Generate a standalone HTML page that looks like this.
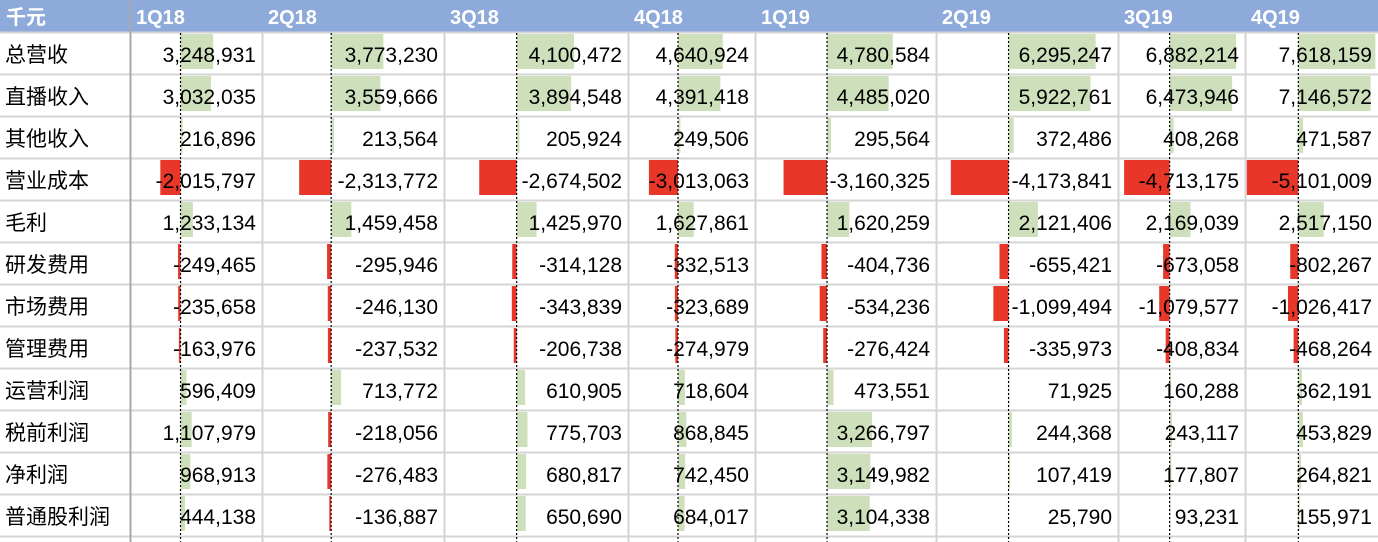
<!DOCTYPE html>
<html><head><meta charset="utf-8"><style>
html,body{margin:0;padding:0;background:#fff;width:1378px;height:542px;overflow:hidden}
svg text{font-family:"Liberation Sans","Noto Sans CJK SC",sans-serif}
</style></head><body>
<svg id="sheet" width="1378" height="542" xmlns="http://www.w3.org/2000/svg"></svg>
<script>
const quarters = ["1Q18","2Q18","3Q18","4Q18","1Q19","2Q19","3Q19","4Q19"];
const rowLabels = ["总营收","直播收入","其他收入","营业成本","毛利","研发费用","市场费用","管理费用","运营利润","税前利润","净利润","普通股利润"];
const q1_18 = [3248931,3032035,216896,-2015797,1233134,-249465,-235658,-163976,596409,1107979,968913,444138];
const q2_18 = [3773230,3559666,213564,-2313772,1459458,-295946,-246130,-237532,713772,-218056,-276483,-136887];
const q3_18 = [4100472,3894548,205924,-2674502,1425970,-314128,-343839,-206738,610905,775703,680817,650690];
const q4_18 = [4640924,4391418,249506,-3013063,1627861,-332513,-323689,-274979,718604,868845,742450,684017];
const q1_19 = [4780584,4485020,295564,-3160325,1620259,-404736,-534236,-276424,473551,3266797,3149982,3104338];
const q2_19 = [6295247,5922761,372486,-4173841,2121406,-655421,-1099494,-335973,71925,244368,107419,25790];
const q3_19 = [6882214,6473946,408268,-4713175,2169039,-673058,-1079577,-408834,160288,243117,177807,93231];
const q4_19 = [7618159,7146572,471587,-5101009,2517150,-802267,-1026417,-468264,362191,453829,264821,155971];
const series = [q1_18,q2_18,q3_18,q4_18,q1_19,q2_19,q3_19,q4_19];

const colEdges = [0,130,262,444,628,755,936,1118,1245,1378];
const headerH = 32, rowH = 42;
const NS = "http://www.w3.org/2000/svg";
const svg = document.getElementById("sheet");
function mk(tag, attrs){const e=document.createElementNS(NS,tag);for(const k in attrs)e.setAttribute(k,attrs[k]);svg.appendChild(e);return e;}
const fmt = v => (v<0?"-":"") + Math.abs(v).toString().replace(/\B(?=(\d{3})+(?!\d))/g,",");

const hb = mk("rect",{x:0,y:0,width:1378,height:headerH,fill:"#8eaadb"});


const ht = mk("text",{x:6,y:24,fill:"#fff","font-size":20,"font-weight":"bold"});
ht.textContent = "千元";


quarters.forEach((q,i)=>{
  const t = mk("text",{x:colEdges[i+1]+6,y:24,fill:"#fff","font-size":20,"font-weight":"bold"});
  t.textContent = q;
  
  
});

for(let r=0;r<=12;r++){
  const y = headerH + r*rowH;
  mk("line",{x1:0,x2:1378,y1:y+0.5,y2:y+0.5,stroke:"#d4d4d4","stroke-width":2});
}
colEdges.slice(1,-1).forEach((x,i)=>{
  mk("line",{x1:x+0.5,x2:x+0.5,y1:headerH,y2:542,stroke:i===0?"#a8a8a8":"#d4d4d4","stroke-width":2});
});
mk("line",{x1:130.5,x2:130.5,y1:0,y2:headerH,stroke:"#a8a8a8","stroke-width":2});

rowLabels.forEach((l,r)=>{
  const t = mk("text",{x:5,y:headerH+r*rowH+30,fill:"#000","font-size":21});
  t.textContent = l;
  
  
});

series.forEach((vals,c)=>{
  const left = colEdges[c+1], right = colEdges[c+2], w = right-left;
  const mx = Math.max(0,...vals), mn = Math.abs(Math.min(0,...vals));
  const axis = left + w*mn/(mx+mn);
  const scale = w*0.076/1e6;
  vals.forEach((v,r)=>{
    const top = headerH + r*rowH;
    const len = Math.abs(v)*scale;
    if(v>=0){
      const b = mk("rect",{x:axis,y:top+2,width:len,height:35,fill:"#cde0bb"});
      
      
    } else {
      const b = mk("rect",{x:axis-len,y:top+2,width:len,height:35,fill:"#e83628"});
      
      
    }
  });
  const ax = mk("line",{x1:axis,x2:axis,y1:headerH+1,y2:542,stroke:"#000","stroke-width":1.2,"stroke-dasharray":"2,2"});
  
  
  vals.forEach((v,r)=>{
    const t = mk("text",{x:right-6,y:headerH+r*rowH+30,fill:"#000","font-size":21,"text-anchor":"end"});
    t.textContent = fmt(v);
    
    
  });
});
</script>
</body></html>
